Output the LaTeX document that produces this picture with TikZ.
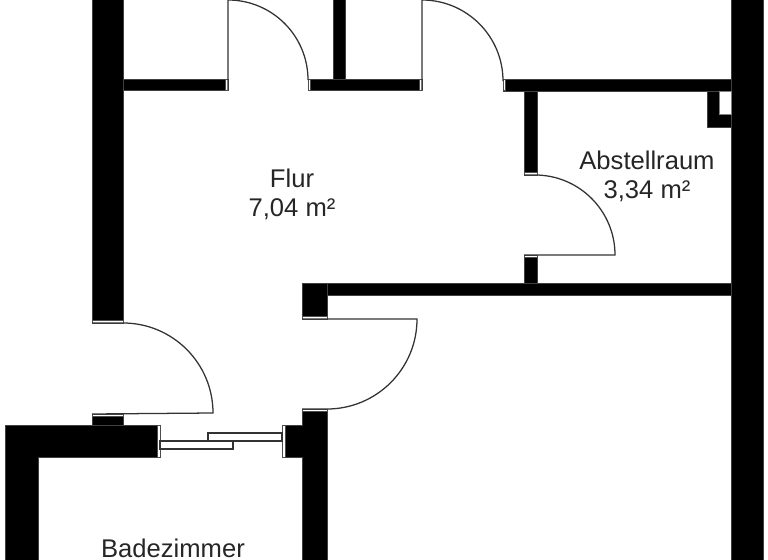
\documentclass[tikz,border=0pt]{standalone}
\usepackage{fontspec}
\setmainfont{Liberation Sans}
\tikzset{
  x=0.75pt,y=-0.75pt,
  wall/.style={fill=black,draw=black!75,line width=0.4pt},
  wallcap/.style={fill=white,draw=black!70,line width=0.5pt},
  leaf/.style={draw=black!80,line width=0.95pt},
  panel/.style={fill=white,draw=black!80,line width=0.95pt},
  hole/.style={fill=white,draw=black!50,line width=0.4pt},
  roomlabel/.style={font=\fontsize{19.2}{21.8}\selectfont,text=black!85,inner sep=0pt}
}
\begin{document}
\begin{tikzpicture}
\useasboundingbox (0,0) rectangle (768,560);
\fill[white] (0,0) rectangle (768,560);
% walls
\fill[wall] (92,-2) rectangle (123,323);
\fill[wall] (123,79) rectangle (228,90.5);
\fill[wall] (308,79) rectangle (422,90.5);
\fill[wall] (333,-2) rectangle (345,79);
\fill[wall] (503,79) rectangle (731,91);
\fill[wall] (731,-2) rectangle (763,562);
\fill[wall] (524,91) rectangle (537,175);
\fill[wall] (524,255) rectangle (537,283);
\fill[wall] (302,283) rectangle (731,295.5);
\fill[wall] (302,283) rectangle (327,319);
\fill[wall] (707,91) rectangle (731,127);
\fill[hole] (719,91) rectangle (731,114);
\fill[wall] (92,414) rectangle (123,426);
\fill[wall] (5,425) -- (160,425) -- (160,457) -- (38,457) -- (38,562) -- (5,562) -- cycle;
\fill[wall] (282,425) -- (302,425) -- (302,409) -- (327,409) -- (327,562) -- (302,562) -- (302,457) -- (282,457) -- cycle;
% wall end caps
\filldraw[wallcap] (92,320.8) rectangle (123,323);
\filldraw[wallcap] (92,414) rectangle (123,416.5);
\filldraw[wallcap] (225.5,79) rectangle (228,90.5);
\filldraw[wallcap] (308,79) rectangle (310.5,90.5);
\filldraw[wallcap] (419.5,79) rectangle (422,90.5);
\filldraw[wallcap] (503,79) rectangle (505.5,90.5);
\filldraw[wallcap] (524,172.5) rectangle (537,175);
\filldraw[wallcap] (524,255) rectangle (537,257.5);
\filldraw[wallcap] (302,316.5) rectangle (327,319);
\filldraw[wallcap] (302,409) rectangle (327,411.5);
\filldraw[wallcap] (157,425) rectangle (160,457);
\filldraw[wallcap] (282,425) rectangle (285,457);
% doors
\draw[leaf] (228,90) -- (228,0) arc[start angle=-90,end angle=0,radius=80];
\draw[leaf] (422,90) -- (422,0) arc[start angle=-90,end angle=0,radius=81];
\draw[leaf] (524,175) -- (535,175) arc[start angle=-90,end angle=0,radius=80] -- (524,255);
\draw[leaf] (92,323) -- (123,323) arc[start angle=-90,end angle=0,radius=90] -- (92,414);
\draw[leaf] (302,319) -- (417,319) arc[start angle=0,end angle=90,radius=90] -- (302,409);
% sliding door
\filldraw[panel] (208,433) rectangle (282,441);
\filldraw[panel] (160,441) rectangle (233,449);
% labels
\node[roomlabel,align=center] (flur) at (292,194.5) {Flur\\7,04 m²};
\node[roomlabel,align=center] (abstell) at (647,176) {Abstellraum\\3,34 m²};
\node[roomlabel] (bad) at (173,548) {Badezimmer};
\end{tikzpicture}
\end{document}
